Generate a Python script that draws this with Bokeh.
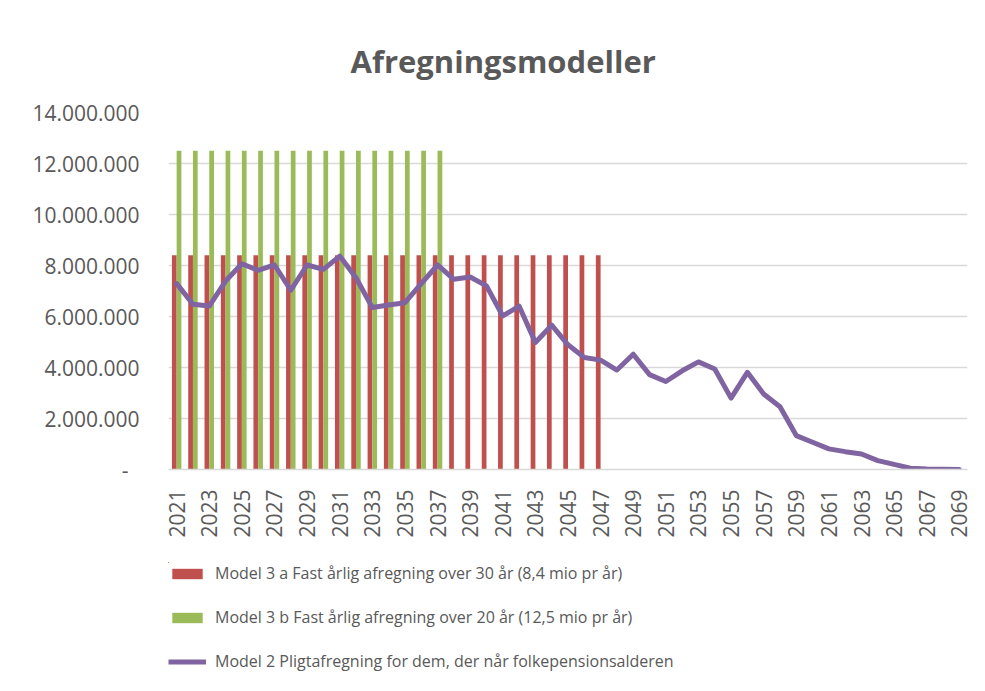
import math
from bokeh.plotting import figure
from bokeh.layouts import column
from bokeh.models import Range1d, FixedTicker, Legend, LegendItem, ColumnDataSource
from bokeh.embed import file_html
from bokeh.resources import INLINE

NaN = float("nan")

years = [2021, 2022, 2023, 2024, 2025, 2026, 2027, 2028, 2029, 2030,
         2031, 2032, 2033, 2034, 2035, 2036, 2037, 2038, 2039, 2040,
         2041, 2042, 2043, 2044, 2045, 2046, 2047, 2048, 2049, 2050,
         2051, 2052, 2053, 2054, 2055, 2056, 2057, 2058, 2059, 2060,
         2061, 2062, 2063, 2064, 2065, 2066, 2067, 2068, 2069]

# Model 3 a: fixed 8.4 mio per year, 2021-2047
model_3a = [8400000] * 27 + [NaN] * 22
# Model 3 b: fixed 12.5 mio per year, 2021-2037
model_3b = [12500000] * 17 + [NaN] * 32
# Model 2: mandatory settlement
model_2 = [7290000, 6480000, 6410000, 7390000, 8070000, 7810000, 8020000, 7030000, 8020000, 7850000,
           8370000, 7520000, 6350000, 6450000, 6540000, 7290000, 8020000, 7460000, 7550000, 7200000,
           6020000, 6410000, 4980000, 5660000, 4890000, 4390000, 4290000, 3900000, 4520000, 3720000,
           3450000, 3870000, 4220000, 3940000, 2800000, 3810000, 2960000, 2460000, 1330000, 1070000,
           810000, 700000, 610000, 350000, 200000, 50000, 20000, 10000, 0]

y_ticks = [0, 2000000, 4000000, 6000000, 8000000, 10000000, 12000000, 14000000]
y_tick_labels = ["-\u00a0\u00a0", "2.000.000", "4.000.000", "6.000.000", "8.000.000",
                 "10.000.000", "12.000.000", "14.000.000"]

title_text = "Afregningsmodeller"
label_3a = "Model 3 a Fast årlig afregning over 30 år (8,4 mio pr år)"
label_3b = "Model 3 b Fast årlig afregning over 20 år (12,5 mio pr år)"
label_2 = "Model 2 Pligtafregning for dem, der når folkepensionsalderen"

RED = "#C0504D"
GREEN = "#9BBB59"
PURPLE = "#8064A2"
GRID = "#D9D9D9"
TEXT = "#595959"
FONT = "Open Sans"

idx = list(range(len(years)))
bar_w = 0.29
src = ColumnDataSource(dict(
    x=idx,
    x_red=[i - bar_w / 2 for i in idx],
    x_green=[i + bar_w / 2 for i in idx],
    m3a=model_3a, m3b=model_3b, m2=model_2,
))

p = figure(width=975, height=540, output_backend="svg", toolbar_location=None,
           x_range=Range1d(-0.5, len(years) - 0.5), y_range=Range1d(0, 14000000),
           min_border_left=166, min_border_right=8, min_border_top=112, min_border_bottom=71)
p.outline_line_color = None
p.background_fill_color = "white"
p.border_fill_color = "white"

r_red = p.vbar(x="x_red", top="m3a", width=bar_w, source=src, fill_color=RED, line_color=None)
r_green = p.vbar(x="x_green", top="m3b", width=bar_w, source=src, fill_color=GREEN, line_color=None)
r_line = p.line(x="x", y="m2", source=src, line_color=PURPLE, line_width=5, line_join="round", line_cap="round")

# title
p.title.text = title_text
p.title.align = "left"
p.title.offset = 182
p.title.text_font = FONT
p.title.text_font_style = "bold"
p.title.text_font_size = "31px"
p.title.text_color = TEXT
p.title.standoff = 62

# y axis
p.yaxis.ticker = FixedTicker(ticks=y_ticks)
p.yaxis.major_label_overrides = {t: l for t, l in zip(y_ticks, y_tick_labels)}
p.yaxis.axis_line_color = None
p.yaxis.major_tick_line_color = None
p.yaxis.minor_tick_line_color = None
p.yaxis.major_label_standoff = 23
p.yaxis.major_label_text_font = FONT
p.yaxis.major_label_text_font_size = "21px"
p.yaxis.major_label_text_color = TEXT
p.ygrid.grid_line_color = GRID
p.ygrid.grid_line_width = 1.5
p.xgrid.grid_line_color = None

# x axis
x_ticks = idx[::2]
p.xaxis.ticker = FixedTicker(ticks=x_ticks)
p.xaxis.major_label_overrides = {i: str(years[i]) for i in x_ticks}
p.xaxis.major_label_orientation = math.pi / 2
p.xaxis.axis_line_color = GRID
p.xaxis.axis_line_width = 1.5
p.xaxis.major_tick_line_color = None
p.xaxis.minor_tick_line_color = None
p.xaxis.major_label_standoff = 14
p.xaxis.major_label_text_font = FONT
p.xaxis.major_label_text_font_size = "21px"
p.xaxis.major_label_text_color = TEXT

# legend in a separate strip below the chart (its glyphs fall outside its visible ranges)
pl = figure(width=975, height=145, output_backend="svg", toolbar_location=None,
            x_range=Range1d(100, 101), y_range=Range1d(-2, -1), title=None,
            x_axis_type=None, y_axis_type=None,
            min_border_left=168, min_border_right=0, min_border_top=22, min_border_bottom=0)
pl.outline_line_color = None
pl.grid.grid_line_color = None
pl.background_fill_color = "white"
pl.border_fill_color = "white"
l_red = pl.vbar(x="x_red", top="m3a", width=bar_w, source=src, fill_color=RED, line_color=None)
l_green = pl.vbar(x="x_green", top="m3b", width=bar_w, source=src, fill_color=GREEN, line_color=None)
l_line = pl.line(x="x", y="m2", source=src, line_color=PURPLE, line_width=5)

legend = Legend(items=[LegendItem(label=label_3a, renderers=[l_red]),
                       LegendItem(label=label_3b, renderers=[l_green]),
                       LegendItem(label=label_2, renderers=[l_line])],
                location="top_left", orientation="vertical",
                border_line_color=None, background_fill_alpha=0,
                glyph_width=38, glyph_height=13, label_standoff=9,
                label_height=22, spacing=22, padding=5, margin=0,
                label_text_font=FONT, label_text_font_size="16px", label_text_color=TEXT)
pl.add_layout(legend, "center")

layout = column(p, pl, spacing=0)
open("out.html", "w").write(file_html(layout, INLINE))
